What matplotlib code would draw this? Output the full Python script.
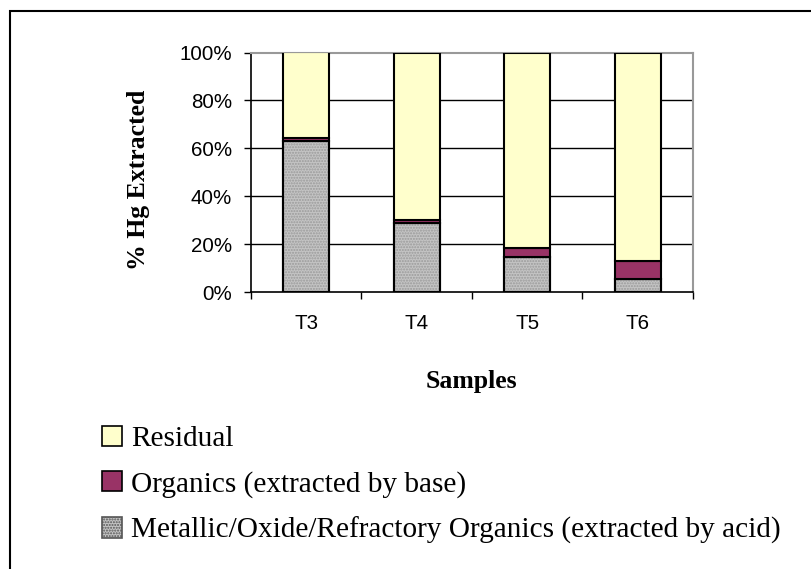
import numpy as np
import matplotlib
matplotlib.use("Agg")
import matplotlib.pyplot as plt
from matplotlib.patches import Rectangle, Patch

samples = ["T3", "T4", "T5", "T6"]
metallic = [63.0, 29.0, 14.7, 5.3]
organics = [1.2, 1.0, 3.5, 7.6]
residual = [100 - m - o for m, o in zip(metallic, organics)]
yticks = [0, 20, 40, 60, 80, 100]
ytick_labels = ["0%", "20%", "40%", "60%", "80%", "100%"]

c_res = "#FFFFCC"
c_org = "#993366"
c_met = "#C4C4C4"

fig = plt.figure(figsize=(8.12, 5.69), dpi=100)
ax = fig.add_axes([251/812, 1-292/569, 442/812, (292-52.5)/569])

x = np.arange(len(samples))
w = 0.42
ax.bar(x, metallic, w, color=c_met, edgecolor="black", linewidth=1.5, zorder=3)
ax.bar(x, metallic, w, color="none", edgecolor="#9a9a9a", hatch="......", linewidth=0, zorder=3)
ax.bar(x, metallic, w, color="none", edgecolor="black", linewidth=1.5, zorder=3)
ax.bar(x, organics, w, bottom=metallic, color=c_org, edgecolor="black", linewidth=1.5, zorder=3)
bot = [m + o for m, o in zip(metallic, organics)]
ax.bar(x, residual, w, bottom=bot, color=c_res, edgecolor="black", linewidth=1.5, zorder=3)

ax.set_xlim(-0.5, len(samples) - 0.5)
ax.set_ylim(0, 100)
ax.set_yticks(yticks)
ax.set_yticklabels(ytick_labels, fontsize=14.8, family="Liberation Sans")
for v in yticks[1:-1]:
    ax.axhline(v, color="black", linewidth=1, zorder=1)

ax.set_xticks(np.arange(len(samples) + 1) - 0.5)
ax.set_xticklabels([])
ax.set_xticks(x, minor=True)
ax.set_xticklabels(samples, minor=True, fontsize=14.8, family="Liberation Sans")
ax.tick_params(axis="x", which="major", length=5, width=1, direction="out")
ax.tick_params(axis="x", which="minor", length=0, pad=16)
ax.tick_params(axis="y", length=5, width=1, pad=8.7)

for s in ["left", "bottom"]:
    ax.spines[s].set_color("black")
    ax.spines[s].set_linewidth(1.2)
for s in ["top", "right"]:
    ax.spines[s].set_color("#999999")
    ax.spines[s].set_linewidth(1.5)

ax.set_ylabel("% Hg Extracted", fontsize=18.5, fontweight="bold", family="Liberation Serif")
ax.yaxis.set_label_coords(-0.228, 0.47)
ax.set_xlabel("Samples", fontsize=18.5, fontweight="bold", family="Liberation Serif")
ax.xaxis.set_label_coords(0.498, -0.326)

handles = [
    Patch(facecolor=c_res, edgecolor="black", linewidth=1.2),
    Patch(facecolor=c_org, edgecolor="black", linewidth=1.2),
    Patch(facecolor=c_met, edgecolor="#555555", linewidth=1.2, hatch="......"),
]
labels = ["Residual", "Organics (extracted by base)",
          "Metallic/Oxide/Refractory Organics (extracted by acid)"]
fig.legend(handles, labels, loc="upper left", bbox_to_anchor=(102/812, 1-426/569),
           frameon=False, prop={"family": "Liberation Serif", "size": 21.1},
           handlelength=0.68, handleheight=0.68, handletextpad=0.3,
           labelspacing=0.64, borderpad=0, borderaxespad=0)

fig.patches.append(Rectangle((10/812, -0.1), 1.2, (569-11)/569 + 0.1,
                             transform=fig.transFigure, fill=False,
                             edgecolor="black", linewidth=1.5))

fig.savefig("out.png", dpi=100)
